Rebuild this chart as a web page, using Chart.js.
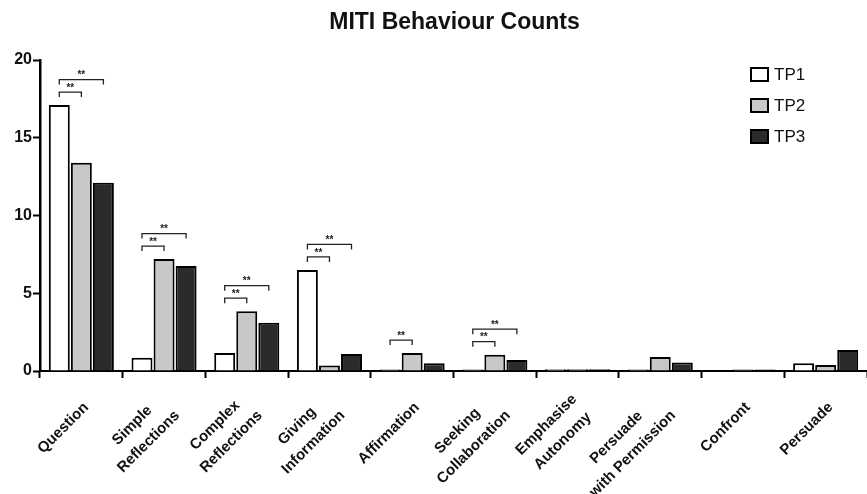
<!DOCTYPE html>
<html>
<head>
<meta charset="utf-8">
<script src="https://cdn.jsdelivr.net/npm/chart.js@4.4.1/dist/chart.umd.min.js"></script>
<style>
  html, body { margin: 0; padding: 0; background: #fff; }
  #wrap { width: 867px; height: 494px; }
</style>
</head>
<body>
<div id="wrap"><canvas id="mitiChart"></canvas></div>
<script>
// data
const titleText = "MITI Behaviour Counts";
const categories = [
  "Question",
  ["Simple", "Reflections"],
  ["Complex", "Reflections"],
  ["Giving", "Information"],
  "Affirmation",
  ["Seeking", "Collaboration"],
  ["Emphasise", "Autonomy"],
  ["Persuade", "with Permission"],
  "Confront",
  "Persuade"
];
const tp1 = [17.1, 0.85, 1.15, 6.5, 0.1, 0.1, 0.12, 0.1, 0, 0.5];
const tp2 = [13.4, 7.2, 3.85, 0.35, 1.15, 1.05, 0.12, 0.9, 0.1, 0.38];
const tp3 = [12.1, 6.75, 3.1, 1.1, 0.5, 0.7, 0.12, 0.55, 0.1, 1.35];
const yTicks = [0, 5, 10, 15, 20];
// [category index, dataset a, dataset b, stacking level]
const sigPairs = [
  [0, 0, 1, 0], [0, 0, 2, 1],
  [1, 0, 1, 0], [1, 0, 2, 1],
  [2, 0, 1, 0], [2, 0, 2, 1],
  [3, 0, 1, 0], [3, 0, 2, 1],
  [4, 0, 1, 0],
  [5, 0, 1, 0], [5, 0, 2, 1]
];
const sigLabel = "**";
const FONT = "'Liberation Sans', Arial, sans-serif";

const titlePlugin = {
  id: "centerTitle",
  afterDraw(chart) {
    const { ctx, chartArea } = chart;
    ctx.save();
    ctx.font = "bold 23px " + FONT;
    ctx.fillStyle = "#111";
    ctx.textAlign = "center";
    ctx.textBaseline = "middle";
    ctx.fillText(titleText, (chartArea.left + chartArea.right) / 2 + 1, 23);
    ctx.restore();
  }
};

// rotated category labels, lines centred on each other (like the original)
const xLabelPlugin = {
  id: "xLabels",
  afterDraw(chart) {
    const { ctx, chartArea } = chart;
    const xs = chart.scales.x;
    ctx.save();
    ctx.font = "bold 15px " + FONT;
    ctx.fillStyle = "#111";
    ctx.textAlign = "center";
    ctx.textBaseline = "middle";
    categories.forEach((lab, i) => {
      const lines = Array.isArray(lab) ? lab : [lab];
      const wmax = Math.max(...lines.map(l => ctx.measureText(l).width));
      ctx.save();
      ctx.translate(xs.getPixelForTick(i) + 5, chartArea.bottom + 34);
      ctx.rotate(-Math.PI / 4);
      lines.forEach((l, j) => {
        ctx.fillText(l, -wmax / 2, (j - (lines.length - 1) / 2) * 23);
      });
      ctx.restore();
    });
    ctx.restore();
  }
};

const sigPlugin = {
  id: "sigBrackets",
  afterDatasetsDraw(chart) {
    const { ctx } = chart;
    const y = chart.scales.y;
    ctx.save();
    ctx.strokeStyle = "#222";
    ctx.lineWidth = 1.3;
    ctx.fillStyle = "#222";
    ctx.font = "bold 10px " + FONT;
    ctx.textAlign = "center";
    ctx.textBaseline = "bottom";
    sigPairs.forEach(([cat, a, b, level]) => {
      const top = Math.max(tp1[cat], tp2[cat], tp3[cat]);
      const yy = y.getPixelForValue(top) - 13 - level * 12.5;
      const xa = chart.getDatasetMeta(a).data[cat].x;
      const xb = chart.getDatasetMeta(b).data[cat].x;
      ctx.beginPath();
      ctx.moveTo(xa, yy + 5);
      ctx.lineTo(xa, yy);
      ctx.lineTo(xb, yy);
      ctx.lineTo(xb, yy + 5);
      ctx.stroke();
      ctx.fillText(sigLabel, (xa + xb) / 2, yy + 1);
    });
    ctx.restore();
  }
};

const legendPlugin = {
  id: "boxLegend",
  afterDraw(chart) {
    const { ctx } = chart;
    ctx.save();
    ctx.font = "17px " + FONT;
    ctx.textBaseline = "middle";
    chart.data.datasets.forEach((ds, i) => {
      const cy = 74 + i * 31;
      ctx.fillStyle = ds.backgroundColor;
      ctx.fillRect(751, cy - 6, 17, 13);
      ctx.strokeStyle = "#000";
      ctx.lineWidth = 2;
      ctx.strokeRect(751, cy - 6, 17, 13);
      ctx.fillStyle = "#111";
      ctx.fillText(ds.label, 774, cy + 1);
    });
    ctx.restore();
  }
};

const barStyle = {
  borderColor: "#000",
  borderWidth: 2,
  borderSkipped: "bottom",
  categoryPercentage: 0.8,
  barPercentage: 0.95
};

new Chart(document.getElementById("mitiChart"), {
  type: "bar",
  data: {
    labels: categories,
    datasets: [
      { label: "TP1", data: tp1, backgroundColor: "#ffffff", ...barStyle },
      { label: "TP2", data: tp2, backgroundColor: "#c8c8c8", ...barStyle },
      { label: "TP3", data: tp3, backgroundColor: "#2b2b2b", ...barStyle }
    ]
  },
  options: {
    responsive: true,
    maintainAspectRatio: false,
    animation: false,
    layout: { padding: { top: 60, right: -6, left: 0, bottom: 0 } },
    plugins: {
      legend: { display: false },
      tooltip: { enabled: false },
      title: { display: false }
    },
    scales: {
      x: {
        grid: { drawOnChartArea: false, tickLength: 7, tickColor: "#000", tickWidth: 2 },
        border: { color: "#000", width: 2 },
        ticks: { display: false, autoSkip: false },
        afterFit: (s) => { s.height = 123; }
      },
      y: {
        min: 0,
        max: 20,
        afterBuildTicks: (s) => { s.ticks = yTicks.map(v => ({ value: v })); },
        grid: { drawOnChartArea: false, tickLength: 7, tickColor: "#000", tickWidth: 2 },
        border: { color: "#000", width: 2.5 },
        ticks: {
          color: "#111",
          font: { family: FONT, size: 16, weight: "bold" },
          padding: 1
        },
        afterFit: (s) => { s.width = 40; }
      }
    }
  },
  plugins: [titlePlugin, sigPlugin, legendPlugin, xLabelPlugin]
});
</script>
</body>
</html>
